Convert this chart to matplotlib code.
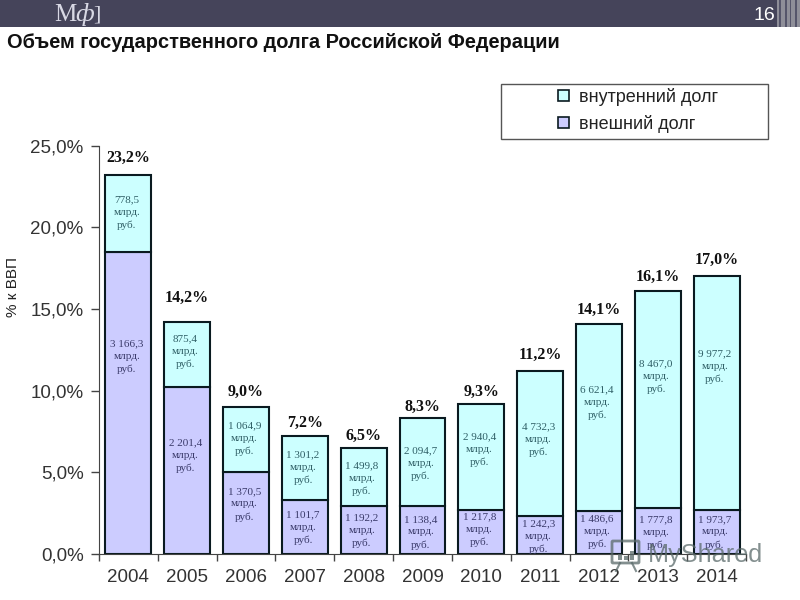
import matplotlib
matplotlib.use("Agg")
import matplotlib.pyplot as plt
from matplotlib.patches import Rectangle, FancyBboxPatch

years = ["2004", "2005", "2006", "2007", "2008", "2009", "2010", "2011", "2012", "2013", "2014"]

# % of GDP
external = [18.5, 10.2, 5.0, 3.3, 2.9, 2.9, 2.7, 2.3, 2.6, 2.8, 2.7]
internal = [4.7, 4.0, 4.0, 3.9, 3.6, 5.4, 6.5, 8.9, 11.5, 13.3, 14.3]

total_labels = ["23,2%", "14,2%", "9,0%", "7,2%", "6,5%", "8,3%", "9,3%", "11,2%", "14,1%", "16,1%", "17,0%"]
internal_labels = ["778,5", "875,4", "1 064,9", "1 301,2", "1 499,8", "2 094,7",
                   "2 940,4", "4 732,3", "6 621,4", "8 467,0", "9 977,2"]
external_labels = ["3 166,3", "2 201,4", "1 370,5", "1 101,7", "1 192,2", "1 138,4",
                   "1 217,8", "1 242,3", "1 486,6", "1 777,8", "1 973,7"]

# where the labels sit on the y scale, they are not centred in the original
total_label_y = [24.25, 15.67, 9.91, 8.03, 7.23, 9.01, 9.91, 12.16, 14.93, 16.97, 18.0]
internal_label_y = [20.9, 12.38, 7.06, 5.27, 4.58, 5.5, 6.37, 7.0, 9.23, 10.85, 11.47]
external_label_y = [12.07, 5.99, 3.03, 1.59, 1.39, 1.31, 1.45, 1.04, 1.35, 1.27, 1.31]

yticks = [0, 5, 10, 15, 20, 25]
ytick_labels = ["0,0%", "5,0%", "10,0%", "15,0%", "20,0%", "25,0%"]

SANS = "Liberation Sans"
SERIF = "Liberation Serif"
HEADER = "#45445a"
CYAN = "#ccffff"
LILAC = "#ccccff"

fig = plt.figure(figsize=(8, 6), dpi=100, facecolor="white")
ax = fig.add_axes([99 / 800, (600 - 553.7) / 600, 647 / 800, 408 / 600])

x = list(range(len(years)))
ax.bar(x, external, width=0.78, color=LILAC, edgecolor="#0a1a20", linewidth=1.5, label="внешний долг")
ax.bar(x, internal, width=0.78, bottom=external, color=CYAN, edgecolor="#0a1a20", linewidth=1.5,
       label="внутренний долг")

for i in x:
    ax.text(i, total_label_y[i], total_labels[i], ha="center", va="center",
            family=SERIF, fontweight="bold", fontsize=11.5, color="#111111")
    ax.text(i - 0.03, internal_label_y[i], internal_labels[i] + "\nмлрд.\nруб.", ha="center", va="center",
            family=SERIF, fontsize=8, color="#2f5f66", linespacing=1.5)
    ax.text(i - 0.03, external_label_y[i], external_labels[i] + "\nмлрд.\nруб.", ha="center", va="center",
            family=SERIF, fontsize=8, color="#3a3a6a", linespacing=1.5, clip_on=True)

ax.set_xlim(-0.5, 10.5)
ax.set_ylim(0, 25)
ax.set_yticks(yticks)
ax.set_yticklabels(ytick_labels, family=SANS, fontsize=13.5, color="#333333")
ax.set_xticks([i - 0.5 for i in range(len(years) + 1)])
ax.set_xticklabels([])
ax.set_xticks(x, minor=True)
ax.set_xticklabels(years, minor=True, family=SANS, fontsize=13.5, color="#333333")
ax.tick_params(axis="x", which="minor", length=0, pad=11)
ax.tick_params(axis="x", which="major", length=5, width=1, color="#444444")
ax.tick_params(axis="y", length=6, width=1, color="#444444", pad=5)
for side in ["top", "right"]:
    ax.spines[side].set_visible(False)
for side in ["left", "bottom"]:
    ax.spines[side].set_color("#444444")

# slide furniture, drawn in pixel coordinates
over = fig.add_axes([0, 0, 1, 1], facecolor="none", zorder=5)
over.set_xlim(0, 800)
over.set_ylim(600, 0)
over.axis("off")

over.add_patch(Rectangle((0, 0), 800, 27, color=HEADER, lw=0))
over.add_patch(Rectangle((777, 0), 23, 27, color="#8e8e98", lw=0))
for left, w in [(779, 1.5), (785, 2), (790, 1), (795, 2)]:
    over.add_patch(Rectangle((left, 0), w, 27, color="#55556a", lw=0))
over.text(54, 15, "М", family=SERIF, fontsize=18, color="#d8d8e4", va="center")
over.text(75, 15, "ф", family=SERIF, fontsize=19, color="#d8d8e4", va="center", style="italic")
over.text(93, 15, "]", family=SERIF, fontsize=16, color="#d8d8e4", va="center")
over.text(764, 16, "16", family=SANS, fontsize=14, color="white", ha="center", va="center")
over.text(7, 41, "Объем государственного долга Российской Федерации", family=SANS, fontweight="bold",
          fontsize=14.4, color="#111111", va="center_baseline")
over.text(13, 287, "% к ВВП", family=SANS, fontsize=11, rotation=90,
          ha="center", va="center", color="#222222")

over.add_patch(Rectangle((501, 83.5), 267, 55, facecolor="white", edgecolor="#555555", lw=1))
handles, labels = ax.get_legend_handles_labels()
leg = over.legend(handles[::-1], labels[::-1], loc="center left", bbox_to_anchor=(542, 110.5),
                  bbox_transform=over.transData, frameon=False, prop={"family": SANS, "size": 13},
                  handlelength=0.58, handleheight=0.58, handletextpad=0.55, labelspacing=0.5,
                  labelcolor="#222222")
for h in leg.legend_handles:
    h.set_linewidth(1.2)

# watermark
wm = "#5a6a6a"
over.add_patch(FancyBboxPatch((613, 542), 25, 20, boxstyle="round,pad=1", facecolor="none",
                              edgecolor=wm, lw=2, alpha=0.75))
for left, top in [(618, 554), (624, 556), (630, 551)]:
    over.add_patch(Rectangle((left, top), 3.5, 560 - top, color=wm, alpha=0.75, lw=0))
over.plot([620, 616], [563, 571], color=wm, lw=1.5, alpha=0.75)
over.plot([632, 636], [563, 571], color=wm, lw=1.5, alpha=0.75)
over.text(648, 555, "MyShared", family=SANS, fontsize=18.2, color=wm, alpha=0.75, va="center")

fig.savefig("out.png", dpi=100)
plt.close(fig)
